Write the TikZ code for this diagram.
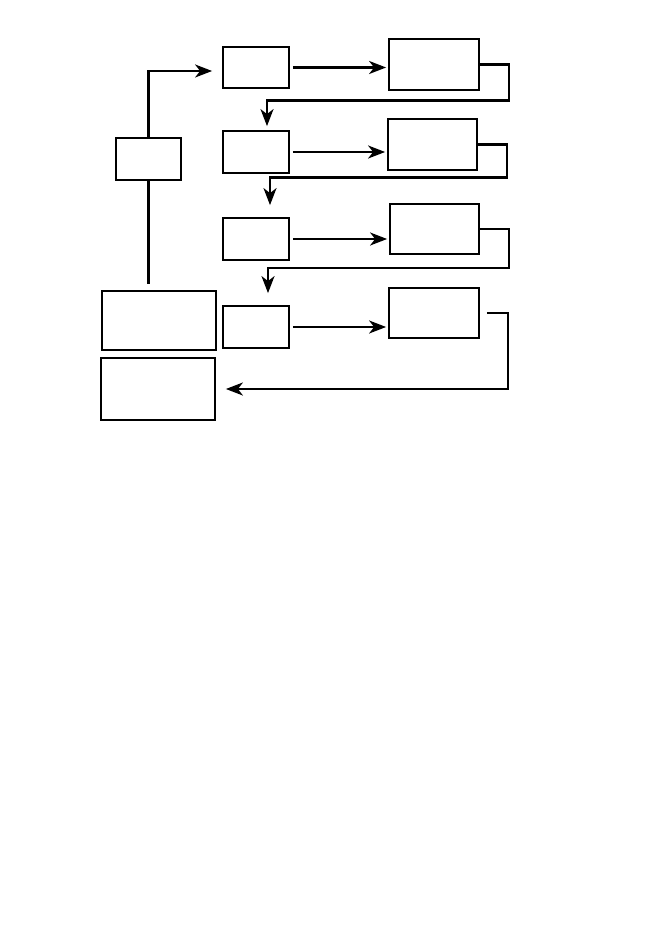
\documentclass[tikz,border=0pt]{standalone}
\usetikzlibrary{arrows.meta}
\tikzset{
  box/.style={draw, line width=1.8pt, inner sep=0pt},
  arr/.style={->, line width=2.2pt}
}
\begin{document}
\begin{tikzpicture}[x=1pt, y=-1pt, >={Stealth[length=17pt,width=13pt,inset=5pt]}]
    \useasboundingbox (0,0) rectangle (662,933);
    % left column
    \node[box, minimum width=65pt, minimum height=42pt] (ctrl) at (148.5,159) {};
    \node[box, minimum width=114pt, minimum height=59pt] (src) at (159,320.5) {};
    \node[box, minimum width=114pt, minimum height=62pt] (dst) at (158,389) {};
    % middle column
    \node[box, minimum width=66pt, minimum height=41pt] (a1) at (256,67.5) {};
    \node[box, minimum width=66pt, minimum height=42pt] (a2) at (256,152) {};
    \node[box, minimum width=66pt, minimum height=42pt] (a3) at (256,239) {};
    \node[box, minimum width=66pt, minimum height=42pt] (a4) at (256,327) {};
    % right column
    \node[box, minimum width=90pt, minimum height=51pt] (d1) at (434,64.5) {};
    \node[box, minimum width=89pt, minimum height=51pt] (d2) at (432.5,144.5) {};
    \node[box, minimum width=89pt, minimum height=50pt] (d3) at (434.5,229) {};
    \node[box, minimum width=90pt, minimum height=50pt] (d4) at (434,313) {};
    % connectors
    \draw[arr, shorten >=10pt] (ctrl.north) |- ([yshift=-3.5pt]a1.west);
    \draw[line width=2.2pt, shorten >=6pt] (ctrl.south) -- (ctrl.south |- src.north);
    \foreach \i in {1,...,4}
      \draw[arr, shorten <=3pt, shorten >=2pt] (a\i.east) -- (a\i.east -| d\i.west);
    \draw[arr, shorten >=4pt] (d1.east) -| ++(29,36) -| ([xshift=11pt]a2.north);
    \draw[arr, shorten >=12pt] (d2.east) -| ++(29,33) -| ([xshift=14pt]a3.north);
    \draw[arr, shorten >=12pt] (d3.east) -| ++(29,39) -| ([xshift=12pt]a4.north);
    \draw[arr, shorten >=10pt] (d4.east) ++(7,0) -- ++(21,0) |- (dst.east);
\end{tikzpicture}
\end{document}
